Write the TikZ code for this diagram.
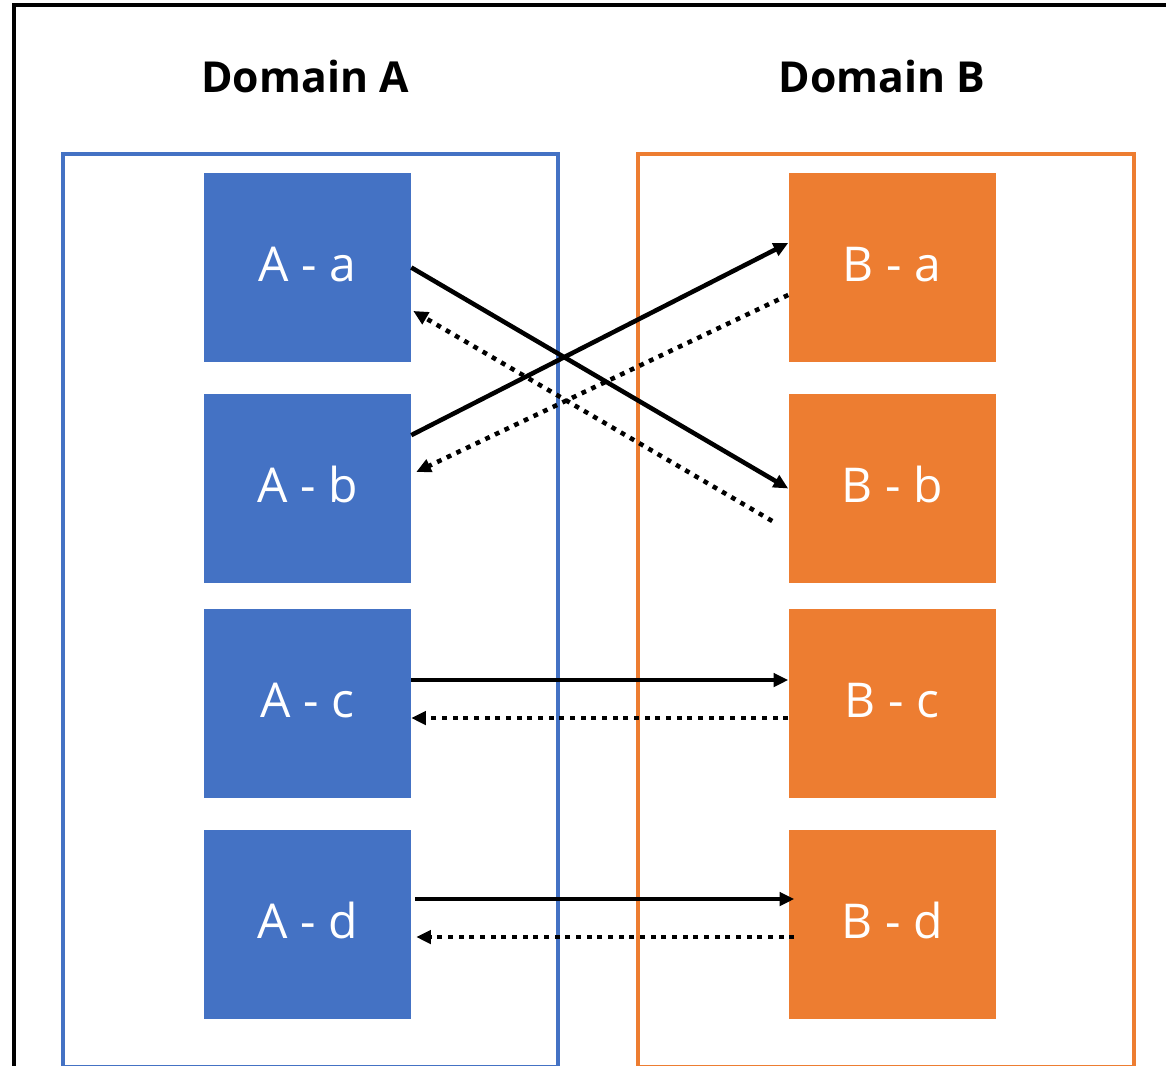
\documentclass[tikz,border=0pt]{standalone}
\usepackage{fontspec}
\setmainfont{Open Sans}
\usetikzlibrary{arrows.meta}
\definecolor{domblue}{RGB}{68,114,196}
\definecolor{domorange}{RGB}{237,125,49}
\tikzset{
  frame/.style={draw=black, line width=3.2pt},
  domainbox/.style={line width=2.6pt},
  title/.style={font=\bfseries\fontsize{32}{39}\selectfont, inner sep=0pt},
  blockA/.style={fill=domblue, text=white, inner sep=0pt,
    minimum width=155.25pt, minimum height=141.75pt,
    text height=25.7pt, text depth=4.5pt,
    font=\fontsize{36}{43}\selectfont},
  blockB/.style={blockA, fill=domorange},
  req/.style={line width=3.4pt, -{Triangle[length=11pt,width=10pt]}},
  resp/.style={req, dash pattern=on 3.6pt off 4.4pt}
}
\begin{document}
\begin{tikzpicture}[x=0.75pt,y=-0.75pt]
\useasboundingbox (0,0) rectangle (1166,1066);
\clip (0,0) rectangle (1166,1066);
% outer frame and the two domains
\draw[frame] (14,5) rectangle (1200,1100);
\draw[domainbox, draw=domblue] (63,154) rectangle (558,1067);
\draw[domainbox, draw=domorange] (638,154) rectangle (1134,1067);
\node[title] (tA) at (305,77) {Domain A};
\node[title] (tB) at (882,77) {Domain B};
% blocks
\node[blockA] (Aa) at (307.5,267.5) {A - a};
\node[blockA] (Ab) at (307.5,488.5) {A - b};
\node[blockA] (Ac) at (307.5,703.5) {A - c};
\node[blockA] (Ad) at (307.5,924.5) {A - d};
\node[blockB] (Ba) at (892,267.5) {B - a};
\node[blockB] (Bb) at (892,488.5) {B - b};
\node[blockB] (Bc) at (892,703.5) {B - c};
\node[blockB] (Bd) at (892,924.5) {B - d};
% crossed links
\draw[req] (Aa.east) -- (Bb.west);
\draw[resp] ([xshift=-12pt,yshift=-24.4pt]Bb.west) -- ([xshift=1.5pt,yshift=-32.6pt]Aa.east);
\draw[req] ([yshift=40pt]Ab.east) -- ([yshift=18.4pt]Ba.west);
\draw[resp] ([yshift=-20.6pt]Ba.west) -- ([xshift=3.75pt,yshift=12.4pt]Ab.east);
% straight links
\draw[req] ([yshift=17.6pt]Ac.east) -- ([yshift=17.6pt]Bc.west);
\draw[resp] ([yshift=-10.9pt]Bc.west) -- ([yshift=-10.9pt]Ac.east);
\draw[req] ([xshift=3pt,yshift=19.1pt]Ad.east) -- ([xshift=4.5pt,yshift=19.1pt]Bd.west);
\draw[resp] ([xshift=4.5pt,yshift=-9.4pt]Bd.west) -- ([xshift=3.75pt,yshift=-9.4pt]Ad.east);
\end{tikzpicture}
\end{document}
